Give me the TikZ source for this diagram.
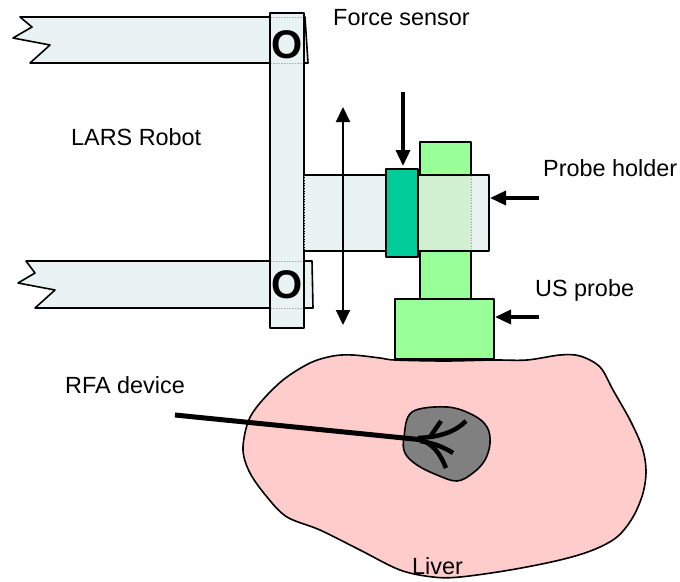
\documentclass[tikz,border=0pt]{standalone}
\usepackage{fontspec}
\setmainfont{Liberation Sans}
\usetikzlibrary{arrows.meta}
\definecolor{barfill}{RGB}{233,243,243}
\definecolor{sensorfill}{RGB}{0,204,153}
\definecolor{probefill}{RGB}{153,255,153}
\definecolor{overlapfill}{RGB}{208,240,208}
\definecolor{liverfill}{RGB}{255,204,204}
\definecolor{tumorfill}{RGB}{128,128,128}
\begin{document}
\begin{tikzpicture}[x=1pt,y=-1pt,
  outline/.style={draw=black,line width=1.6pt,line join=round},
  bar/.style={outline,fill=barfill},
  lbl/.style={font=\fontsize{23.4}{28}\selectfont,inner sep=0pt,anchor=base west},
  joint/.style={font=\fontsize{40}{46}\selectfont\bfseries,inner sep=0pt},
  seam/.style={draw=gray!60,line width=0.6pt,densely dotted},
  push/.style={line width=3.5pt,-{Triangle[length=16pt,width=14pt]}},
  slide/.style={line width=2pt,{Triangle[length=15pt,width=14pt]}-{Triangle[length=15pt,width=14pt]}},
  tine/.style={line width=4.5pt},
]
\useasboundingbox (0,0) rectangle (680,581);

% robot arms with broken-off left ends
\draw[bar] (20,17) -- (305,17) -- (308,63) -- (30,63) -- (50,45) -- (13,38) -- (32,27) -- cycle;
\draw[bar] (26,261) -- (312,261) -- (313,308) -- (35,308) -- (55,290) -- (18,283) -- (35,273) -- cycle;

% vertical link
\draw[bar] (270,13) rectangle (304,328);
\draw[seam] (271,17) -- (303,17) (271,63) -- (303,63) (271,261) -- (303,261) (271,308) -- (303,308);

% joints
\node[joint] (j1) at (287,44.5) {O};
\node[joint] (j2) at (287.5,284.5) {O};

% liver with tumour
\draw[outline,fill=liverfill] plot[smooth cycle,tension=0.55] coordinates {
  (243,450) (248,422) (260,403) (283,380) (310,363) (333,356) (353,355) (380,358)
  (395,360) (445,361) (493,360) (527,360) (560,355) (580,356) (600,367) (613,390)
  (630,420) (642,447) (646,470) (643,493) (633,517) (617,537) (593,550) (560,560)
  (510,570) (460,577) (433,577) (400,570) (360,550) (320,530) (287,517) (267,497) (250,473)};
\draw[outline,fill=tumorfill] plot[smooth cycle,tension=0.6] coordinates {
  (412,412) (447,407) (473,415) (487,427) (490,443) (485,460) (473,473) (457,481)
  (437,475) (417,465) (405,453) (404,437)};

% probe shaft, holder arm and force sensor
\draw[outline,fill=probefill] (420,142) rectangle (471,300);
\draw[bar] (304,175) rectangle (489,251);
\fill[overlapfill] (419,176) rectangle (471,250);
\draw[seam] (471,176) -- (471,250) (304,176) -- (304,250);
\draw[outline] (304,175) -- (489,175) (304,251) -- (489,251);
\draw[outline,fill=sensorfill] (386,169) rectangle (418,257);
\draw[outline,fill=probefill] (395,299) rectangle (494,359);

% RFA needle and tines
\coordinate (needleA) at (175,415);
\coordinate (needleB) at (424,440);
\draw[line width=5pt] (needleA) -- (needleB);
\draw[tine] (418,438) .. controls (440,437) and (455,432) .. (466,421);
\draw[tine] (430,437) -- (441,421);
\draw[tine] (420,441) .. controls (432,443) and (442,446) .. (453,453);
\draw[tine] (426,442) .. controls (436,448) and (441,456) .. (446,468);

% motion and force arrows
\coordinate (slideTop) at (343,107);
\coordinate (slideBot) at (343,325);
\draw[slide] (slideTop) -- (slideBot);
\coordinate (forceFrom) at (403,92);
\coordinate (forceTo) at (403,166);
\draw[push] (forceFrom) -- (forceTo);
\coordinate (holderFrom) at (539,198);
\coordinate (holderTo) at (490,198);
\draw[push] (holderFrom) -- (holderTo);
\coordinate (usFrom) at (539,317);
\coordinate (usTo) at (495,317);
\draw[push] (usFrom) -- (usTo);

% labels
\node[lbl] (force) at (333,25) {Force sensor};
\node[lbl] (lars) at (71,145) {LARS Robot};
\node[lbl] (holder) at (543,176.5) {Probe holder};
\node[lbl] (us) at (535,296) {US probe};
\node[lbl] (rfa) at (65,393) {RFA device};
\node[lbl] (liver) at (412,574) {Liver};
\end{tikzpicture}
\end{document}
